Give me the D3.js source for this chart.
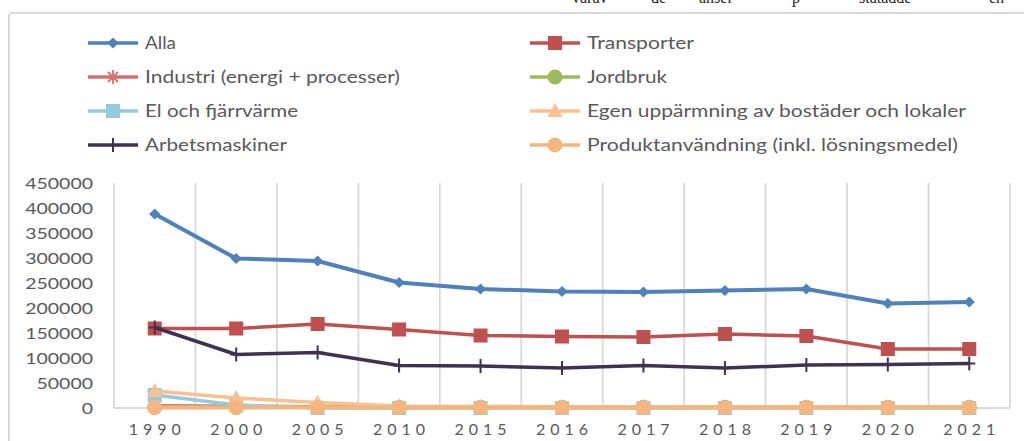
<!DOCTYPE html>
<html>
<head>
<meta charset="utf-8">
<script src="https://cdn.jsdelivr.net/npm/d3@7"></script>
<style>
  body { margin: 0; background: #fff; }
  svg { display: block; }
</style>
</head>
<body>
<script>
var years = ['1990', '2000', '2005', '2010', '2015', '2016', '2017', '2018', '2019', '2020', '2021'];
var yTicks = [0, 50000, 100000, 150000, 200000, 250000, 300000, 350000, 400000, 450000];

var alla = [388000, 299000, 294000, 251000, 238000, 233000, 232000, 235000, 238000, 209000, 212000];
var transporter = [159000, 159000, 168000, 157000, 145000, 143000, 142000, 148000, 144000, 118000, 118000];
var industri = [5000, 4000, 3000, 2500, 2000, 2000, 2000, 2000, 2000, 1500, 1500];
var jordbruk = [1500, 1500, 1500, 1500, 1500, 1500, 1500, 1500, 1500, 1500, 1500];
var elFjarr = [26000, 6000, 0, 0, 0, 0, 0, 0, 0, 0, 0];
var egenUppv = [34000, 20000, 11000, 4000, 3000, 2500, 2500, 2000, 2000, 1500, 1500];
var arbetsmaskiner = [161000, 107000, 111000, 85000, 84000, 80000, 85000, 80000, 86000, 87000, 89000];
var produkt = [800, 800, 800, 800, 800, 800, 800, 800, 800, 800, 800];

var seriesNames = ['Alla', 'Transporter', 'Industri (energi + processer)', 'Jordbruk',
  'El och fjärrvärme', 'Egen uppärmning av bostäder och lokaler', 'Arbetsmaskiner',
  'Produktanvändning (inkl. lösningsmedel)'];
// label widths as they appear in the original (its font is a wide one)
var legendWidths = [31, 107, 255, 80, 153, 379, 142, 371];

var series = [
  {name: seriesNames[0], values: alla, color: '#4f81bd', marker: 'diamond', width: 4},
  {name: seriesNames[1], values: transporter, color: '#c0504d', marker: 'square', width: 3.5},
  {name: seriesNames[2], values: industri, color: '#d4706d', marker: 'star', width: 3},
  {name: seriesNames[3], values: jordbruk, color: '#9bbb59', marker: 'circle', width: 3.5},
  {name: seriesNames[4], values: elFjarr, color: '#93cddd', marker: 'square', width: 3.5},
  {name: seriesNames[5], values: egenUppv, color: '#fac090', marker: 'triangle', width: 3.5},
  {name: seriesNames[6], values: arbetsmaskiner, color: '#3f3151', marker: 'plus', width: 3.5},
  {name: seriesNames[7], values: produkt, color: '#f7b57e', marker: 'circle', width: 4}
];

var W = 1024, H = 441;
var FONT = 'Lato, "Open Sans", sans-serif';
var TEXT = '#595959';
var GRID = '#d9d9d9';

var svg = d3.select('body').append('svg')
  .attr('width', W)
  .attr('height', H);

// clipped caption from the page above the chart
var cap = svg.append('text')
  .attr('y', 3)
  .attr('font-family', '"Liberation Serif", serif')
  .attr('font-size', 16)
  .attr('fill', '#222');
[[572, 'varav'], [651, 'de'], [699, 'anser'], [792, 'p'], [859, 'statadde'], [989, 'en']].forEach(function(w) {
  cap.append('tspan').attr('x', w[0]).text(w[1]);
});

// chart frame
svg.append('rect')
  .attr('x', 9)
  .attr('y', 13)
  .attr('width', 1040)
  .attr('height', 450)
  .attr('rx', 3)
  .attr('fill', 'none')
  .attr('stroke', GRID)
  .attr('stroke-width', 2);

var x = d3.scaleBand().domain(years).range([114, 1010]);
var y = d3.scaleLinear().domain([0, 450000]).range([408, 183]);
var cx = function(d, i) { return x(years[i]) + x.bandwidth() / 2; };

// vertical grid lines between categories
var edges = years.map(function(d) { return x(d); }).concat([x.range()[1]]);
svg.append('g').selectAll('line').data(edges).enter().append('line')
  .attr('x1', function(d) { return d; })
  .attr('x2', function(d) { return d; })
  .attr('y1', y(450000))
  .attr('y2', y(0))
  .attr('stroke', GRID)
  .attr('stroke-width', 1.8);

svg.append('line')
  .attr('x1', x.range()[0])
  .attr('x2', x.range()[1])
  .attr('y1', y(0))
  .attr('y2', y(0))
  .attr('stroke', GRID)
  .attr('stroke-width', 1.8);

// y labels
svg.append('g').selectAll('text').data(yTicks).enter().append('text')
  .attr('x', 93)
  .attr('y', function(d) { return y(d); })
  .attr('dy', '0.36em')
  .attr('text-anchor', 'end')
  .attr('font-family', FONT)
  .attr('font-size', 16)
  .attr('fill', TEXT)
  .attr('textLength', function(d) { return String(d).length * 11.3; })
  .attr('lengthAdjust', 'spacingAndGlyphs')
  .text(function(d) { return d; });

// x labels, widely spaced like the original
svg.append('g').selectAll('text').data(years).enter().append('text')
  .attr('x', function(d) { return x(d) + x.bandwidth() / 2; })
  .attr('y', 429)
  .attr('dy', '0.36em')
  .attr('text-anchor', 'middle')
  .attr('font-family', FONT)
  .attr('font-size', 16)
  .attr('fill', TEXT)
  .attr('textLength', 52)
  .attr('lengthAdjust', 'spacing')
  .text(function(d) { return d; });

function drawMarker(g, type, color, px, py) {
  if (type === 'diamond') {
    g.append('path')
      .attr('d', d3.symbol().type(d3.symbolDiamond2).size(110)())
      .attr('transform', 'translate(' + px + ',' + py + ') scale(0.85)')
      .attr('fill', color);
  } else if (type === 'square') {
    g.append('rect')
      .attr('x', px - 7).attr('y', py - 7)
      .attr('width', 14).attr('height', 14)
      .attr('fill', color);
  } else if (type === 'circle') {
    g.append('circle')
      .attr('cx', px).attr('cy', py).attr('r', 7.5)
      .attr('fill', color);
  } else if (type === 'triangle') {
    g.append('path')
      .attr('d', 'M' + px + ',' + (py - 8) + 'L' + (px + 7.5) + ',' + (py + 6) + 'L' + (px - 7.5) + ',' + (py + 6) + 'Z')
      .attr('fill', color);
  } else if (type === 'plus') {
    g.append('path')
      .attr('d', 'M' + px + ',' + (py - 7) + 'V' + (py + 7) + 'M' + (px - 6) + ',' + py + 'H' + (px + 6))
      .attr('stroke', color)
      .attr('stroke-width', 2);
  } else if (type === 'star') {
    // asterisk: an x with a vertical bar through it
    g.append('path')
      .attr('d', 'M' + (px - 5) + ',' + (py - 5) + 'L' + (px + 5) + ',' + (py + 5) +
        'M' + (px + 5) + ',' + (py - 5) + 'L' + (px - 5) + ',' + (py + 5) +
        'M' + px + ',' + (py - 7) + 'V' + (py + 7))
      .attr('stroke', color)
      .attr('stroke-width', 1.8);
  }
}

var line = d3.line()
  .x(cx)
  .y(function(d) { return y(d); });

series.forEach(function(s) {
  var g = svg.append('g');
  g.append('path')
    .datum(s.values)
    .attr('d', line)
    .attr('fill', 'none')
    .attr('stroke', s.color)
    .attr('stroke-width', s.width)
    .attr('stroke-linejoin', 'round');
  s.values.forEach(function(v, i) {
    drawMarker(g, s.marker, s.color, cx(v, i), y(v));
  });
});

// legend: two columns, filled row by row
var legend = svg.append('g');
series.forEach(function(s, i) {
  var col = i % 2, row = Math.floor(i / 2);
  var lx = col === 0 ? 88 : 530;
  var ly = 43 + row * 34;
  legend.append('line')
    .attr('x1', lx).attr('x2', lx + 50)
    .attr('y1', ly).attr('y2', ly)
    .attr('stroke', s.color)
    .attr('stroke-width', 3.5);
  drawMarker(legend, s.marker, s.color, lx + 25, ly);
  legend.append('text')
    .attr('x', lx + 57)
    .attr('y', ly)
    .attr('dy', '0.36em')
    .attr('font-family', FONT)
    .attr('font-size', 17.5)
    .attr('fill', TEXT)
    .attr('textLength', legendWidths[i])
    .attr('lengthAdjust', 'spacingAndGlyphs')
    .text(s.name);
});
</script>
</body>
</html>
